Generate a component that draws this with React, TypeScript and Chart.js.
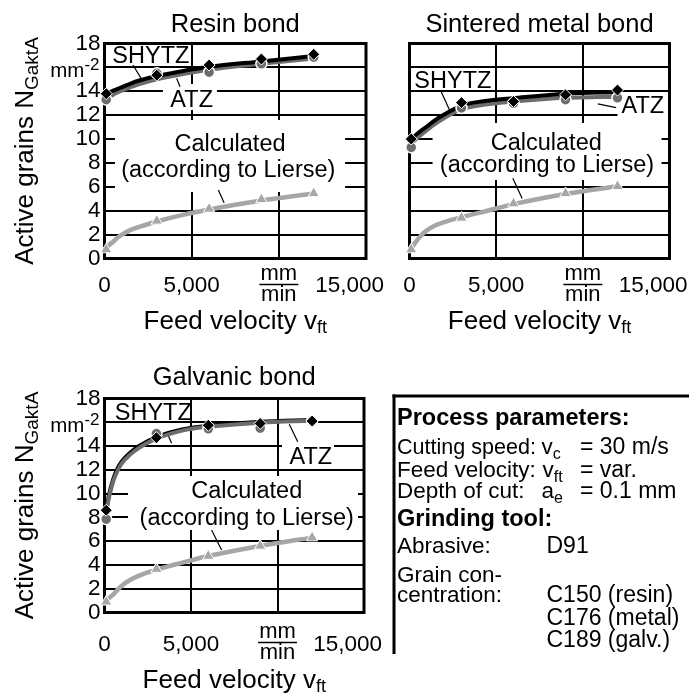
import React, { useEffect, useRef } from 'react';
import { Chart, registerables } from 'chart.js';

Chart.register(...registerables);

const FONT = "'Liberation Sans', Arial, Helvetica, sans-serif";
const PAGE_W = 689;
const PAGE_H = 693;

// ---------- measured points (feed velocity in mm/min, active grains in 1/mm²) ----------
const feedVelocity = [100, 3000, 6000, 9000, 12000];

const resinSHYTZ = [13.8, 15.35, 16.2, 16.7, 17.1];
const resinATZ = [13.3, 15.5, 15.6, 16.3, 16.85];
const resinCalc = [0.75, 3.15, 4.15, 4.95, 5.45];

const metalSHYTZ = [10.0, 13.05, 13.15, 13.7, 14.1];
const metalATZ = [9.3, 12.6, 13.0, 13.3, 13.45];
const metalCalc = [0.75, 3.4, 4.6, 5.45, 6.05];

const galvSHYTZ = [8.6, 14.7, 15.75, 15.9, 16.1];
const galvATZ = [7.85, 15.05, 15.45, 15.5, 16.1];
const galvCalc = [0.9, 3.65, 4.75, 5.6, 6.3];

// ---------- fitted curves ----------
const curveVelocity = [100, 250, 500, 750, 1000, 1500, 2000, 3000, 4500, 6000, 9000, 12000];

const resinSHYTZFit = [13.8, 13.9, 14.05, 14.2, 14.35, 14.65, 14.9, 15.28, 15.7, 16.05, 16.5, 16.95];
const resinATZFit = [13.35, 13.5, 13.72, 13.9, 14.05, 14.35, 14.6, 15.0, 15.45, 15.8, 16.3, 16.75];
const resinCalcFit = [0.8, 1.1, 1.4, 1.75, 2.0, 2.4, 2.65, 3.1, 3.65, 4.1, 4.85, 5.45];

const metalSHYTZFit = [10.0, 10.2, 10.5, 10.8, 11.05, 11.6, 12.05, 12.8, 13.2, 13.42, 13.8, 13.92];
const metalATZFit = [9.6, 9.8, 10.15, 10.45, 10.75, 11.3, 11.75, 12.5, 12.92, 13.14, 13.45, 13.55];
const metalCalcFit = [0.75, 1.15, 1.65, 2.05, 2.35, 2.78, 3.05, 3.45, 4.0, 4.55, 5.4, 6.05];

const galvSHYTZFit = [8.6, 9.8, 11.2, 12.1, 12.7, 13.45, 14.0, 14.75, 15.4, 15.7, 16.05, 16.2];
const galvATZFit = [8.4, 9.6, 11.0, 11.9, 12.55, 13.3, 13.85, 14.62, 15.3, 15.62, 15.97, 16.12];
const galvCalcFit = [0.9, 1.2, 1.5, 1.9, 2.25, 2.75, 3.1, 3.6, 4.2, 4.75, 5.6, 6.3];

// ---------- axes ----------
const xMin = 0;
const xMax = 15000;
const xStep = 5000;
const yMin = 0;
const yMax = 18;
const yStep = 2;
const xTickValues = [0, 5000, 10000, 15000];
const xTickLabels = ['0', '5,000', '', '15,000'];
const xUnitValue = 10000;
const xUnitNumerator = 'mm';
const xUnitDenominator = 'min';
const yUnitValue = 16;
const yUnitBase = 'mm';
const yUnitExp = '-2';

const yTitleMain = 'Active grains N';
const yTitleSub = 'GaktA';
const xTitleMain = 'Feed velocity v';
const xTitleSub = 'ft';

const labelSHYTZ = 'SHYTZ';
const labelATZ = 'ATZ';
const labelCalc1 = 'Calculated';
const labelCalc2 = '(according to Lierse)';

// ---------- colours ----------
const BLACK = '#000000';
const ATZ_GREY = '#6c6c6c';
const CALC_GREY = '#a6a6a6';

type Rect = { l: number; t: number; r: number; b: number };
type Ann = { text: string; x: number; y: number };
type PanelCfg = {
  plot: Rect;
  title: string;
  titleOff: number;
  showY: boolean;
  tickOff: number;
  fracOff: number;
  xTitleOff: number;
  shytz: number[];
  atz: number[];
  calc: number[];
  shytzFit: number[];
  atzFit: number[];
  calcFit: number[];
  atzOnTop: boolean;
  labels: Ann[];
  boxes: number[][];
  leaders: number[][];
};

const panels: PanelCfg[] = [
  {
    plot: { l: 104.5, t: 43.5, r: 366, b: 258.5 },
    title: 'Resin bond',
    titleOff: 12,
    showY: true,
    tickOff: 33,
    fracOff: 26,
    xTitleOff: 70,
    shytz: resinSHYTZ,
    atz: resinATZ,
    calc: resinCalc,
    shytzFit: resinSHYTZFit,
    atzFit: resinATZFit,
    calcFit: resinCalcFit,
    atzOnTop: false,
    labels: [
      { text: labelSHYTZ, x: 2660, y: 17.04 },
      { text: labelATZ, x: 5000, y: 13.38 },
      { text: labelCalc1, x: 7200, y: 9.67 },
      { text: labelCalc2, x: 7100, y: 7.52 },
    ],
    boxes: [
      [3350, 14.61, 6450, 12.43],
      [600, 11.6, 13800, 5.57],
    ],
    leaders: [
      [1635, 16.2, 2150, 14.95],
      [4140, 15.08, 4330, 14.38],
      [6530, 5.73, 6860, 4.67],
    ],
  },
  {
    plot: { l: 409.5, t: 43.5, r: 669.5, b: 258.5 },
    title: 'Sintered metal bond',
    titleOff: 12,
    showY: false,
    tickOff: 33,
    fracOff: 26,
    xTitleOff: 70,
    shytz: metalSHYTZ,
    atz: metalATZ,
    calc: metalCalc,
    shytzFit: metalSHYTZFit,
    atzFit: metalATZFit,
    calcFit: metalCalcFit,
    atzOnTop: false,
    labels: [
      { text: labelSHYTZ, x: 2500, y: 14.94 },
      { text: labelATZ, x: 13460, y: 12.85 },
      { text: labelCalc1, x: 7890, y: 9.78 },
      { text: labelCalc2, x: 7930, y: 7.97 },
    ],
    boxes: [
      [12000, 13.6, 15000, 11.76],
      [1330, 11.35, 14540, 6.57],
    ],
    leaders: [
      [1830, 13.96, 2310, 12.43],
      [10865, 12.94, 11925, 12.63],
      [5960, 6.71, 6500, 5.03],
    ],
  },
  {
    plot: { l: 104.5, t: 398.5, r: 364, b: 612.5 },
    title: 'Galvanic bond',
    titleOff: 13.5,
    showY: true,
    tickOff: 38.5,
    fracOff: 30,
    xTitleOff: 75,
    shytz: galvSHYTZ,
    atz: galvATZ,
    calc: galvCalc,
    shytzFit: galvSHYTZFit,
    atzFit: galvATZFit,
    calcFit: galvCalcFit,
    atzOnTop: true,
    labels: [
      { text: labelSHYTZ, x: 2820, y: 16.92 },
      { text: labelATZ, x: 11925, y: 13.18 },
      { text: labelCalc1, x: 8220, y: 10.3 },
      { text: labelCalc2, x: 8220, y: 8.06 },
    ],
    boxes: [
      [10260, 14.5, 13266, 12.15],
      [1358, 11.48, 14653, 6.94],
    ],
    leaders: [
      [3590, 15.21, 3880, 14.23],
      [10680, 15.83, 11170, 14.37],
      [6190, 6.94, 6770, 5.26],
    ],
  },
];

type Part = { t: string; size: number; dy?: number; bold?: boolean };

function drawRich(ctx: CanvasRenderingContext2D, parts: Part[], x: number, y: number, align: 'left' | 'center' | 'right') {
  const widths = parts.map((p) => {
    ctx.font = `${p.bold ? 'bold ' : ''}${p.size}px ${FONT}`;
    return ctx.measureText(p.t).width;
  });
  const total = widths.reduce((a, b) => a + b, 0);
  let cx = align === 'left' ? x : align === 'center' ? x - total / 2 : x - total;
  ctx.textAlign = 'left';
  ctx.textBaseline = 'alphabetic';
  parts.forEach((p, i) => {
    ctx.font = `${p.bold ? 'bold ' : ''}${p.size}px ${FONT}`;
    ctx.fillText(p.t, cx, y + (p.dy || 0));
    cx += widths[i];
  });
}

const ANN_SIZE = 23.5;
const TICK_SIZE = 22.5;
const TITLE_SIZE = 25.5;
const AXIS_TITLE_SIZE = 26;

function makePlugin(cfg: PanelCfg) {
  return {
    id: 'panelDecor',
    beforeDatasetsDraw(chart: any) {
      const ctx: CanvasRenderingContext2D = chart.ctx;
      const xs = chart.scales.x;
      const ys = chart.scales.y;
      const X = (v: number) => xs.getPixelForValue(v);
      const Y = (v: number) => ys.getPixelForValue(v);
      const a = chart.chartArea;
      ctx.save();
      ctx.fillStyle = '#ffffff';
      for (const b of cfg.boxes) {
        const x1 = X(b[0]);
        const x2 = X(b[2]);
        const y1 = Y(b[1]);
        const y2 = Y(b[3]);
        ctx.fillRect(Math.min(x1, x2), Math.min(y1, y2), Math.abs(x2 - x1), Math.abs(y2 - y1));
      }
      ctx.strokeStyle = BLACK;
      ctx.lineWidth = 3;
      ctx.strokeRect(a.left, a.top, a.right - a.left, a.bottom - a.top);

      ctx.fillStyle = BLACK;
      ctx.font = `${ANN_SIZE}px ${FONT}`;
      ctx.textAlign = 'center';
      ctx.textBaseline = 'alphabetic';
      for (const t of cfg.labels) {
        ctx.fillText(t.text, X(t.x), Y(t.y) + 0.358 * ANN_SIZE);
      }
      ctx.lineWidth = 1.2;
      for (const l of cfg.leaders) {
        ctx.beginPath();
        ctx.moveTo(X(l[0]), Y(l[1]));
        ctx.lineTo(X(l[2]), Y(l[3]));
        ctx.stroke();
      }
      ctx.restore();
    },
    afterDraw(chart: any) {
      const ctx: CanvasRenderingContext2D = chart.ctx;
      const xs = chart.scales.x;
      const ys = chart.scales.y;
      const X = (v: number) => xs.getPixelForValue(v);
      const Y = (v: number) => ys.getPixelForValue(v);
      const a = chart.chartArea;
      const cxPlot = (a.left + a.right) / 2;
      const cyPlot = (a.top + a.bottom) / 2;
      ctx.save();
      ctx.fillStyle = BLACK;
      ctx.strokeStyle = BLACK;

      // title
      ctx.font = `${TITLE_SIZE}px ${FONT}`;
      ctx.textAlign = 'center';
      ctx.textBaseline = 'alphabetic';
      ctx.fillText(cfg.title, cxPlot, a.top - cfg.titleOff);

      // x tick labels
      ctx.font = `${TICK_SIZE}px ${FONT}`;
      const yb = a.bottom + cfg.tickOff;
      xTickValues.forEach((v, i) => {
        const txt = xTickLabels[i];
        if (!txt) return;
        if (v === xMax) {
          ctx.textAlign = 'right';
          ctx.fillText(txt, X(v) + 18, yb);
        } else {
          ctx.textAlign = 'center';
          ctx.fillText(txt, X(v), yb);
        }
      });
      // unit fraction
      const fx = X(xUnitValue);
      const bar = a.bottom + cfg.fracOff;
      ctx.textAlign = 'center';
      ctx.font = `22px ${FONT}`;
      ctx.fillText(xUnitNumerator, fx, bar - 4.5);
      ctx.fillText(xUnitDenominator, fx, bar + 16);
      ctx.lineWidth = 1.6;
      ctx.beginPath();
      ctx.moveTo(fx - 19.5, bar);
      ctx.lineTo(fx + 19.5, bar);
      ctx.stroke();

      // x title
      drawRich(
        ctx,
        [
          { t: xTitleMain, size: AXIS_TITLE_SIZE },
          { t: xTitleSub, size: 18, dy: 4.5 },
        ],
        cxPlot,
        a.bottom + cfg.xTitleOff,
        'center'
      );

      if (cfg.showY) {
        // unit tick label
        drawRich(
          ctx,
          [
            { t: yUnitBase, size: 20.5 },
            { t: yUnitExp, size: 17, dy: -7 },
          ],
          a.left - 5,
          Y(yUnitValue) + 10,
          'right'
        );
        // y title
        ctx.save();
        ctx.translate(24, cyPlot);
        ctx.rotate(-Math.PI / 2);
        drawRich(
          ctx,
          [
            { t: yTitleMain, size: AXIS_TITLE_SIZE },
            { t: yTitleSub, size: 19, dy: 5 },
          ],
          0,
          0.358 * AXIS_TITLE_SIZE,
          'center'
        );
        ctx.restore();
      }
      ctx.restore();
    },
  };
}

const Y_AXIS_W = 40;
const X_AXIS_H = 10;

function toPts(xv: number[], yv: number[]) {
  return xv.map((x, i) => ({ x, y: yv[i] }));
}

function Panel({ cfg }: { cfg: PanelCfg }) {
  const ref = useRef<HTMLCanvasElement | null>(null);
  useEffect(() => {
    const canvas = ref.current;
    if (!canvas) return;
    const p = cfg.plot;
    const curveBase = {
      type: 'line' as const,
      pointRadius: 0,
      pointHoverRadius: 0,
      fill: false,
      cubicInterpolationMode: 'monotone' as const,
      clip: false as any,
    };
    const markerBase = {
      type: 'line' as const,
      showLine: false,
      clip: false as any,
      pointBorderColor: '#ffffff',
    };
    const chart = new Chart(canvas, {
      type: 'line',
      data: {
        datasets: [
          {
            ...markerBase,
            label: 'SHYTZ',
            data: toPts(feedVelocity, cfg.shytz),
            pointStyle: 'rectRot',
            pointRadius: 6,
            pointBackgroundColor: BLACK,
            pointBorderWidth: 1,
            order: 1,
          },
          {
            ...markerBase,
            label: 'ATZ',
            data: toPts(feedVelocity, cfg.atz),
            pointStyle: 'circle',
            pointRadius: 5.5,
            pointBackgroundColor: ATZ_GREY,
            pointBorderWidth: 1.5,
            order: 2,
          },
          {
            ...markerBase,
            label: 'Calculated',
            data: toPts(feedVelocity, cfg.calc),
            pointStyle: 'triangle',
            pointRadius: 6.5,
            pointBackgroundColor: CALC_GREY,
            pointBorderWidth: 1,
            order: 3,
          },
          {
            ...curveBase,
            label: 'SHYTZ fit',
            data: toPts(curveVelocity, cfg.shytzFit),
            borderColor: BLACK,
            borderWidth: 4,
            order: cfg.atzOnTop ? 9 : 8,
          },
          {
            ...curveBase,
            label: 'ATZ fit',
            data: toPts(curveVelocity, cfg.atzFit),
            borderColor: ATZ_GREY,
            borderWidth: 4,
            order: cfg.atzOnTop ? 8 : 9,
          },
          {
            ...curveBase,
            label: 'Calculated fit',
            data: toPts(curveVelocity, cfg.calcFit),
            borderColor: CALC_GREY,
            borderWidth: 4.5,
            order: 10,
          },
        ] as any,
      },
      options: {
        responsive: false,
        animation: false,
        devicePixelRatio: 1,
        events: [],
        layout: {
          padding: {
            left: p.l - Y_AXIS_W,
            top: p.t,
            right: PAGE_W - p.r,
            bottom: PAGE_H - p.b - X_AXIS_H,
          },
        },
        plugins: {
          legend: { display: false },
          tooltip: { enabled: false },
          title: { display: false },
        },
        scales: {
          x: {
            type: 'linear',
            min: xMin,
            max: xMax,
            ticks: { stepSize: xStep, display: false, autoSkip: false },
            grid: { color: BLACK, lineWidth: 2, drawTicks: false },
            border: { display: false },
            afterFit: (s: any) => {
              s.height = X_AXIS_H;
            },
          },
          y: {
            type: 'linear',
            min: yMin,
            max: yMax,
            ticks: {
              stepSize: yStep,
              autoSkip: false,
              display: cfg.showY,
              padding: 4,
              color: BLACK,
              font: { family: FONT, size: TICK_SIZE, lineHeight: 1 },
              callback: (v: any) => (Number(v) === yUnitValue ? '' : String(v)),
            },
            grid: { color: BLACK, lineWidth: 2, drawTicks: false },
            border: { display: false },
            afterFit: (s: any) => {
              s.width = Y_AXIS_W;
            },
          },
        },
      } as any,
      plugins: [makePlugin(cfg)],
    });
    return () => chart.destroy();
  }, [cfg]);
  return (
    <canvas
      ref={ref}
      width={PAGE_W}
      height={PAGE_H}
      style={{ position: 'absolute', left: 0, top: 0, width: PAGE_W, height: PAGE_H }}
    />
  );
}

type Seg = { t: string; sub?: boolean };
type Row = {
  y: number;
  left?: string;
  leftLen?: number;
  bold?: boolean;
  right?: Seg[];
  rightX?: number;
  eqX?: number;
  eq?: string;
};

const boxRows: Row[] = [
  { y: 425.4, left: 'Process parameters:', bold: true },
  { y: 454, left: 'Cutting speed:', leftLen: 139, right: [{ t: 'v' }, { t: 'c', sub: true }], rightX: 541.5, eq: '= 30 m/s', eqX: 580 },
  { y: 476.7, left: 'Feed velocity:', right: [{ t: 'v' }, { t: 'ft', sub: true }], rightX: 542.5, eq: '= var.', eqX: 580 },
  { y: 498.3, left: 'Depth of cut:', right: [{ t: 'a' }, { t: 'e', sub: true }], rightX: 541.5, eq: '= 0.1 mm', eqX: 580 },
  { y: 526, left: 'Grinding tool:', bold: true },
  { y: 553.3, left: 'Abrasive:', eq: 'D91', eqX: 546.5 },
  { y: 581.7, left: 'Grain con-' },
  { y: 601.7, left: 'centration:', eq: 'C150 (resin)', eqX: 546.5 },
  { y: 625, eq: 'C176 (metal)', eqX: 546.5 },
  { y: 646.7, eq: 'C189 (galv.)', eqX: 546.5 },
];

function ParamBox() {
  return (
    <svg
      width={PAGE_W}
      height={PAGE_H}
      style={{ position: 'absolute', left: 0, top: 0 }}
      fontFamily={FONT}
      fontSize={22.5}
      fill="#000"
    >
      <line x1={394} y1={394.5} x2={394} y2={654} stroke="#000" strokeWidth={3} />
      <line x1={392.5} y1={396} x2={689} y2={396} stroke="#000" strokeWidth={3} />
      {boxRows.map((r, i) => (
        <g key={i}>
          {r.left && (
            <text
              x={397}
              y={r.y}
              fontWeight={r.bold ? 'bold' : 'normal'}
              fontSize={r.bold ? 23.5 : 22.5}
              {...(r.leftLen ? { textLength: r.leftLen, lengthAdjust: 'spacingAndGlyphs' } : {})}
            >
              {r.left}
            </text>
          )}
          {r.right && (
            <text x={r.rightX} y={r.y}>
              {r.right.map((s, j) =>
                s.sub ? (
                  <tspan key={j} fontSize={16} dy={5}>
                    {s.t}
                  </tspan>
                ) : (
                  <tspan key={j}>{s.t}</tspan>
                )
              )}
            </text>
          )}
          {r.eq && (
            <text x={r.eqX} y={r.y} fontSize={23}>
              {r.eq}
            </text>
          )}
        </g>
      ))}
    </svg>
  );
}

export default function App() {
  return (
    <div style={{ position: 'absolute', left: 0, top: 0, width: PAGE_W, height: PAGE_H, background: '#fff' }}>
      {panels.map((cfg, i) => (
        <Panel key={i} cfg={cfg} />
      ))}
      <ParamBox />
    </div>
  );
}
